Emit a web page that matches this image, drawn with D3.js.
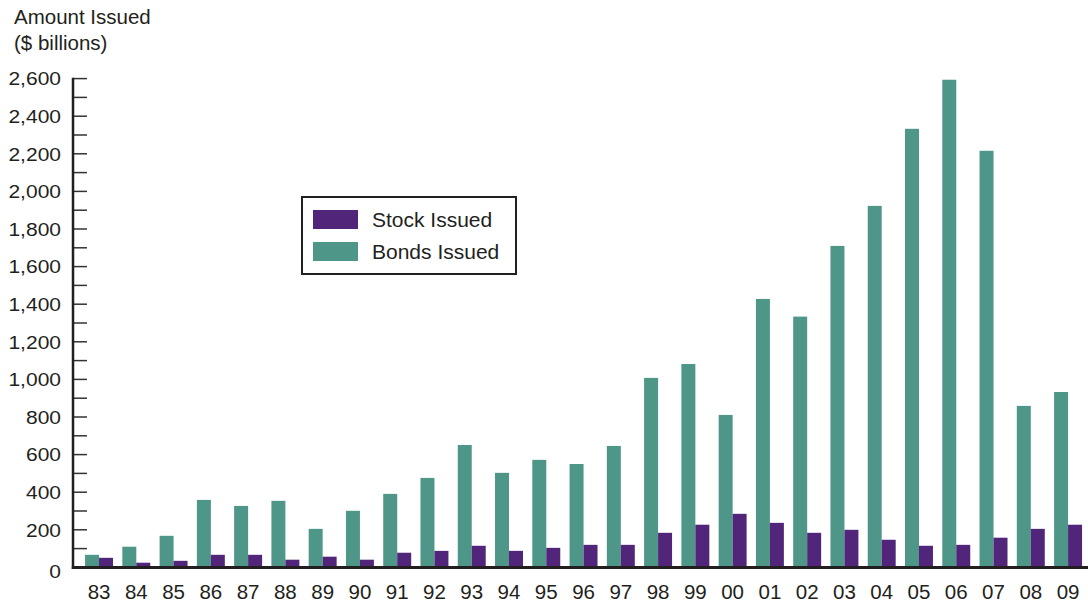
<!DOCTYPE html>
<html>
<head>
<meta charset="utf-8">
<script src="https://cdn.jsdelivr.net/npm/d3@7"></script>
<style>
  html, body { margin: 0; padding: 0; background: #fff; }
  svg { display: block; font-family: "Liberation Sans", Arial, Helvetica, sans-serif; }
</style>
</head>
<body>
<svg id="chart" width="1088" height="604"></svg>
<script>
const years = ["83","84","85","86","87","88","89","90","91","92","93","94","95","96","97","98","99","00","01","02","03","04","05","06","07","08","09"];
const bondsIssued = [67,110,168,359,327,354,205,301,391,476,651,503,572,550,646,1008,1082,811,1428,1334,1710,1923,2333,2594,2216,859,933];
const stockIssued = [51,25,35,67,67,41,57,41,78,88,115,88,104,120,120,184,227,285,237,184,200,147,115,120,158,205,227];
const yTicks = [0,200,400,600,800,1000,1200,1400,1600,1800,2000,2200,2400,2600];
const seriesNames = ["Stock Issued","Bonds Issued"];
const colors = { "Stock Issued": "#51267a", "Bonds Issued": "#4e9688" };

const svg = d3.select("#chart");
const axisX = 73, baseY = 567.4, topY = 78.6;
const ink = "#231f20";

const y = d3.scaleLinear().domain([0, 2600]).range([baseY, topY]);
const x = d3.scaleBand().domain(years).range([80.4, 1086.7]).paddingInner(0.25).paddingOuter(0.125);
const sub = d3.scaleBand().domain(["Bonds Issued","Stock Issued"]).range([0, x.bandwidth()]);

// bars
const g = svg.append("g");
years.forEach((yr, i) => {
  const vals = [["Bonds Issued", bondsIssued[i]], ["Stock Issued", stockIssued[i]]];
  vals.forEach(([s, v]) => {
    g.append("rect")
      .attr("x", x(yr) + sub(s))
      .attr("y", y(v))
      .attr("width", sub.bandwidth())
      .attr("height", baseY - y(v))
      .attr("fill", colors[s]);
  });
});

// y ticks (minor every 100)
const minor = d3.range(100, 2600, 200);
svg.append("g").selectAll("line").data(yTicks.concat(minor)).join("line")
  .attr("x1", axisX).attr("x2", axisX + 14)
  .attr("y1", d => y(d)).attr("y2", d => y(d))
  .attr("stroke", "#333").attr("stroke-width", 1.5);

svg.append("g").selectAll("text").data(yTicks).join("text")
  .attr("transform", d => `translate(61,${d === 0 ? 571 : y(d)}) scale(1.13,1)`)
  .attr("dy", "0.36em")
  .attr("text-anchor", "end").attr("font-size", 18.6).attr("fill", ink)
  .text(d => d3.format(",")(d));

// axes lines
svg.append("line").attr("x1", axisX).attr("x2", axisX).attr("y1", topY - 0.8).attr("y2", baseY + 1.5)
  .attr("stroke", ink).attr("stroke-width", 2.5);
svg.append("line").attr("x1", axisX - 1.2).attr("x2", 1088).attr("y1", baseY).attr("y2", baseY)
  .attr("stroke", ink).attr("stroke-width", 3);

// year labels
svg.append("g").selectAll("text").data(years).join("text")
  .attr("x", d => x(d) + x.bandwidth() / 2).attr("y", 599)
  .attr("text-anchor", "middle").attr("font-size", 20.5).attr("fill", ink)
  .text(d => d);

// axis title
svg.append("text").attr("x", 14).attr("y", 24).attr("font-size", 20.5).attr("fill", ink).text("Amount Issued");
svg.append("text").attr("x", 14).attr("y", 50).attr("font-size", 20.5).attr("fill", ink).text("($ billions)");

// legend
const lg = svg.append("g");
lg.append("rect").attr("x", 302).attr("y", 197).attr("width", 214).attr("height", 77)
  .attr("fill", "#fff").attr("stroke", ink).attr("stroke-width", 2);
seriesNames.forEach((s, i) => {
  lg.append("rect").attr("x", 313).attr("y", 210 + i * 32).attr("width", 45).attr("height", 19).attr("fill", colors[s]);
  lg.append("text").attr("x", 372).attr("y", 219.5 + i * 32).attr("dy", "0.36em")
    .attr("font-size", 21).attr("fill", ink).text(s);
});
</script>
</body>
</html>
